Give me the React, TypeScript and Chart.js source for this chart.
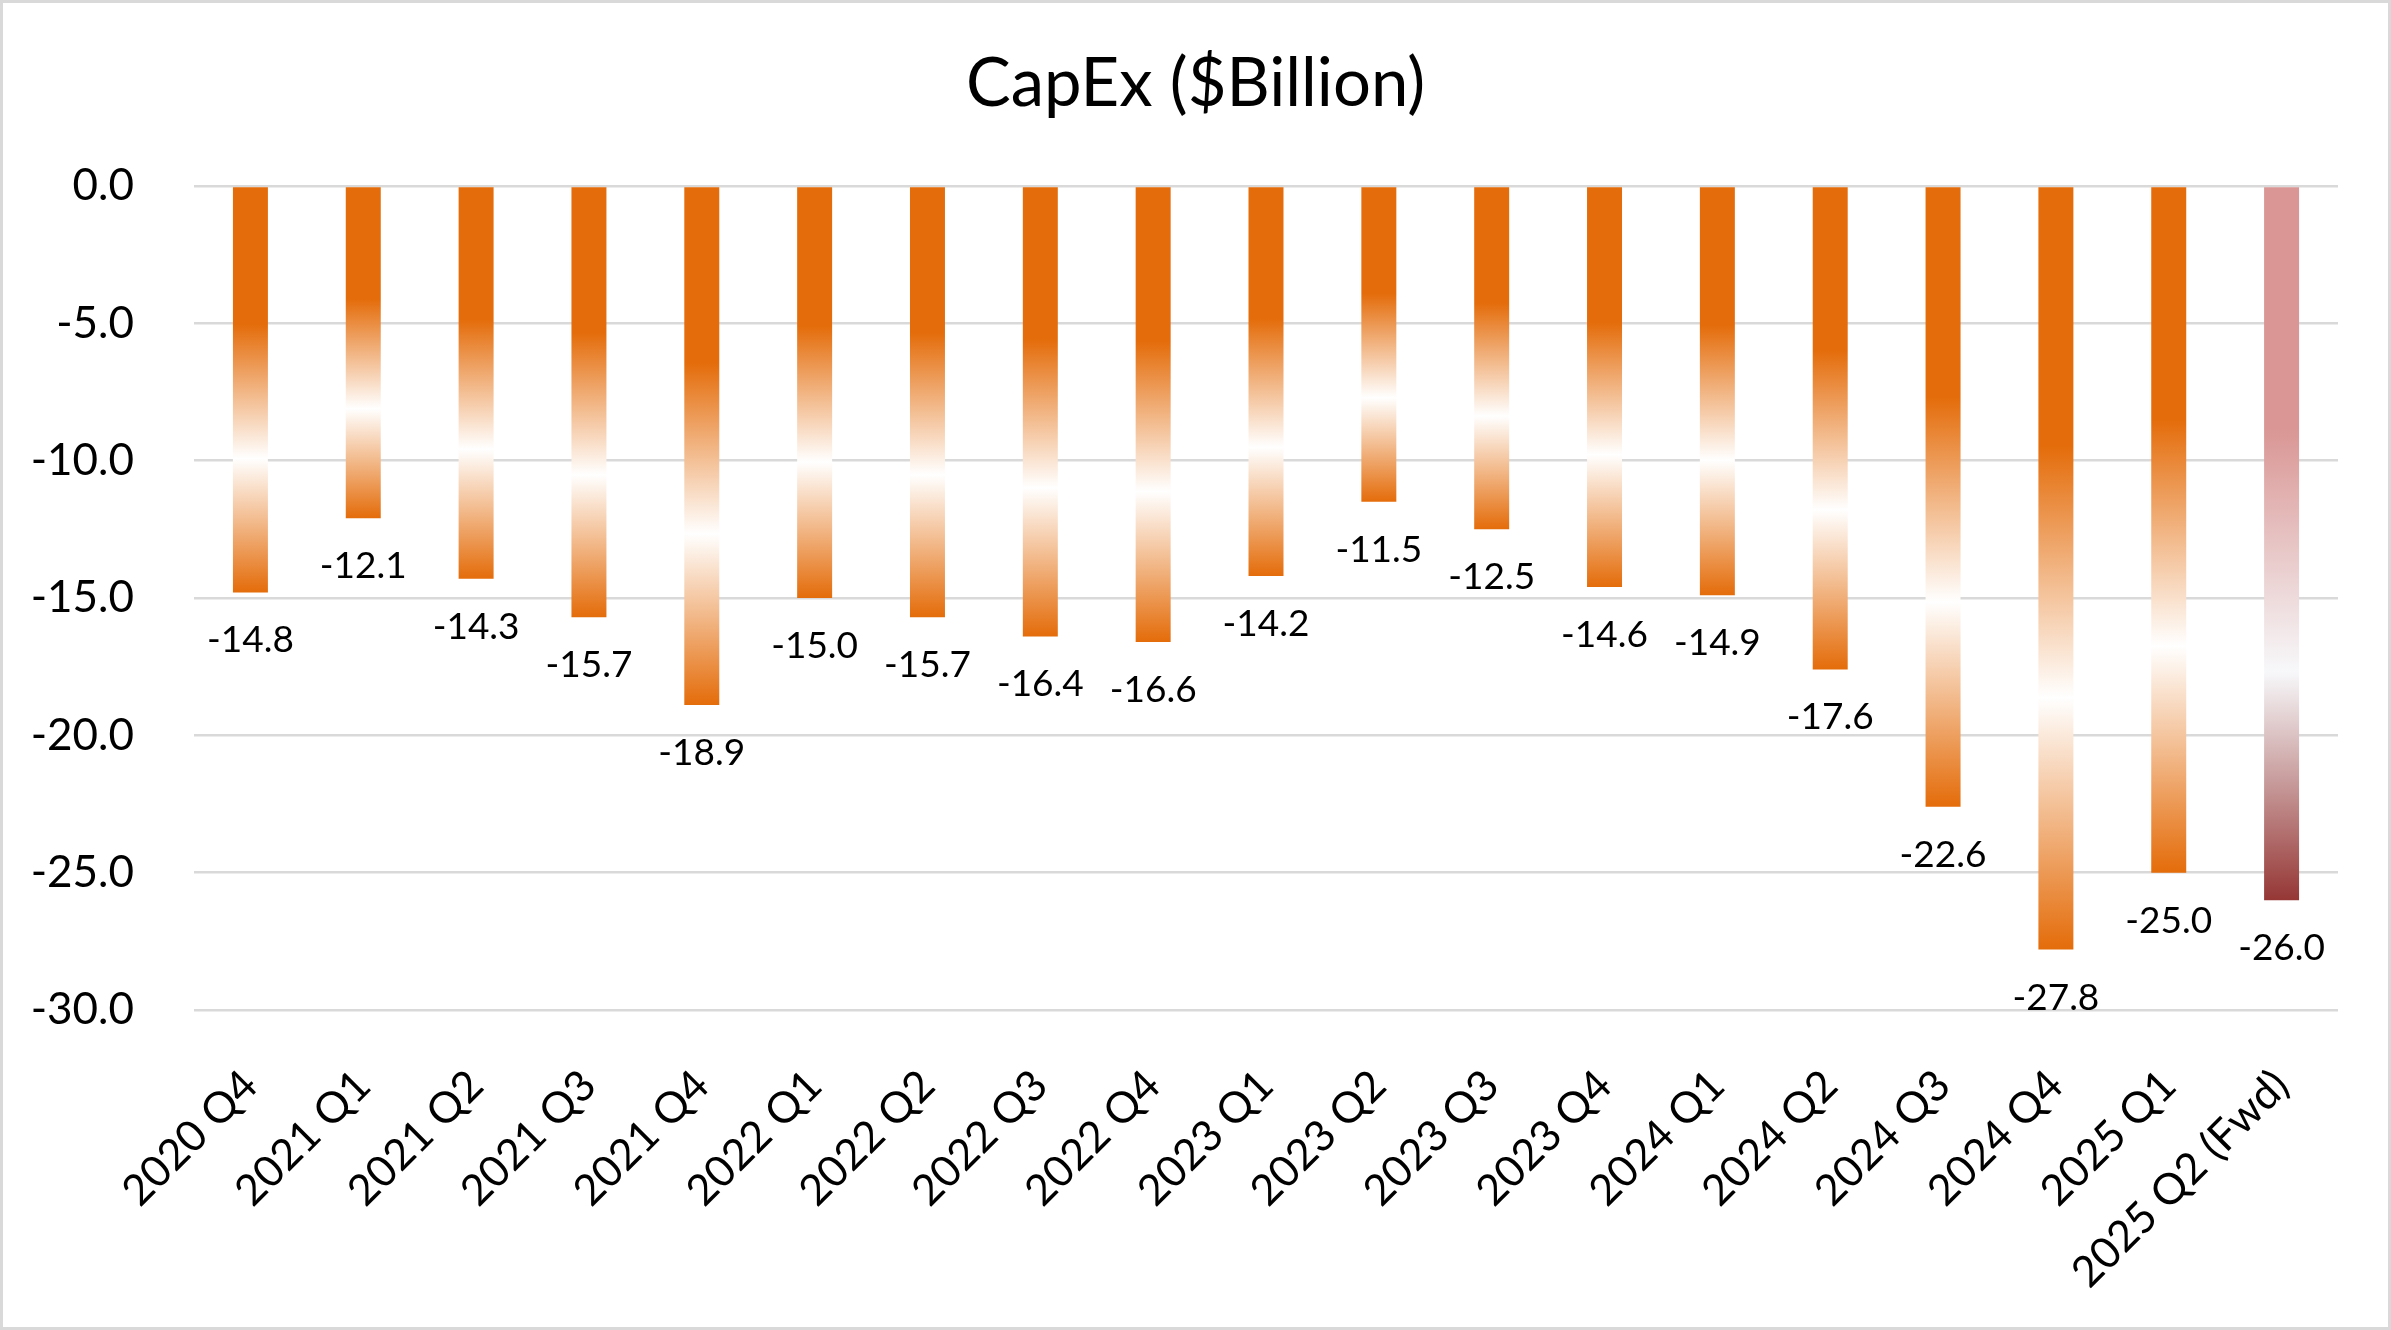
import React, { useEffect, useRef } from "react";
import { Chart, registerables, Plugin } from "chart.js";

Chart.register(...registerables);

const quarters = [
  "2020 Q4", "2021 Q1", "2021 Q2", "2021 Q3", "2021 Q4",
  "2022 Q1", "2022 Q2", "2022 Q3", "2022 Q4",
  "2023 Q1", "2023 Q2", "2023 Q3", "2023 Q4",
  "2024 Q1", "2024 Q2", "2024 Q3", "2024 Q4",
  "2025 Q1", "2025 Q2 (Fwd)",
];
const capex = [
  -14.8, -12.1, -14.3, -15.7, -18.9,
  -15.0, -15.7, -16.4, -16.6,
  -14.2, -11.5, -12.5, -14.6,
  -14.9, -17.6, -22.6, -27.8,
  -25.0, -26.0,
];
const forwardIndex = 18;
const yTicks = [0, -5, -10, -15, -20, -25, -30];
const chartTitle = "CapEx ($Billion)";

const FONT = "Lato, Carlito, Calibri, sans-serif";
const ORANGE = "#E46C0A";

// title centred on the whole canvas, not on the padded layout
const centredTitle: Plugin<"bar"> = {
  id: "centredTitle",
  afterDraw(chart) {
    const { ctx } = chart;
    ctx.save();
    ctx.font = `67px ${FONT}`;
    ctx.fillStyle = "#000";
    ctx.textAlign = "center";
    ctx.textBaseline = "middle";
    ctx.fillText(chartTitle, chart.width / 2, 81);
    ctx.restore();
  },
};

// labels under each bar end, like Excel's "outside end"
const valueLabels: Plugin<"bar"> = {
  id: "valueLabels",
  afterDatasetsDraw(chart) {
    const { ctx } = chart;
    const meta = chart.getDatasetMeta(0);
    ctx.save();
    ctx.font = `37px ${FONT}`;
    ctx.fillStyle = "#000";
    ctx.textAlign = "center";
    ctx.textBaseline = "middle";
    meta.data.forEach((bar: any, i) => {
      ctx.fillText(capex[i].toFixed(1), bar.x, bar.y + 48);
    });
    ctx.restore();
  },
};

export default function App() {
  const canvasRef = useRef<HTMLCanvasElement>(null);
  const chartRef = useRef<Chart | null>(null);

  useEffect(() => {
    if (!canvasRef.current) return;
    if (chartRef.current) chartRef.current.destroy();

    chartRef.current = new Chart(canvasRef.current, {
      type: "bar",
      data: {
        labels: quarters,
        datasets: [
          {
            label: "CapEx",
            data: capex,
            categoryPercentage: 1,
            barPercentage: 0.31,
            backgroundColor: (c: any) => {
              const chart = c.chart;
              const y = chart.scales?.y;
              if (c.type !== "data" || !y || !chart.chartArea) return ORANGE;
              const top = y.getPixelForValue(0);
              const bottom = y.getPixelForValue(c.raw);
              const g = chart.ctx.createLinearGradient(0, top, 0, bottom);
              if (c.dataIndex === forwardIndex) {
                g.addColorStop(0, "#D99694");
                g.addColorStop(0.34, "#D99694");
                g.addColorStop(0.68, "#F7F8FA");
                g.addColorStop(1, "#953735");
              } else {
                g.addColorStop(0, ORANGE);
                g.addColorStop(0.34, ORANGE);
                g.addColorStop(0.67, "#FFFFFF");
                g.addColorStop(1, ORANGE);
              }
              return g;
            },
          },
        ],
      },
      options: {
        animation: false,
        responsive: true,
        maintainAspectRatio: false,
        layout: { padding: { left: 0, right: 50, top: 183, bottom: 0 } },
        plugins: {
          legend: { display: false },
          tooltip: { enabled: false },
          title: { display: false },
        },
        scales: {
          x: {
            grid: { display: false, drawTicks: false },
            border: { display: false },
            ticks: {
              autoSkip: false,
              maxRotation: 45,
              minRotation: 45,
              padding: 50,
              color: "#000",
              font: { family: FONT, size: 43 },
            },
            afterFit: (scale: any) => {
              scale.height = 317;
            },
          },
          y: {
            min: -30,
            max: 0,
            afterBuildTicks: (scale: any) => {
              scale.ticks = yTicks.map((v) => ({ value: v }));
            },
            grid: { color: "#D9D9D9", lineWidth: 2.5, drawTicks: false },
            border: { display: false },
            ticks: {
              padding: 60,
              color: "#000",
              font: { family: FONT, size: 44 },
              callback: (v: any) => Number(v).toFixed(1),
            },
            afterFit: (scale: any) => {
              scale.width = 191;
            },
          },
        },
      },
      plugins: [valueLabels, centredTitle],
    });

    return () => {
      if (chartRef.current) {
        chartRef.current.destroy();
        chartRef.current = null;
      }
    };
  }, []);

  return (
    <div
      style={{
        position: "fixed",
        left: 0,
        top: 0,
        width: 2391,
        height: 1330,
        boxSizing: "border-box",
        border: "3px solid #D9D9D9",
        background: "#fff",
      }}
    >
      <div style={{ position: "relative", width: 2385, height: 1324 }}>
        <canvas ref={canvasRef} />
      </div>
    </div>
  );
}
